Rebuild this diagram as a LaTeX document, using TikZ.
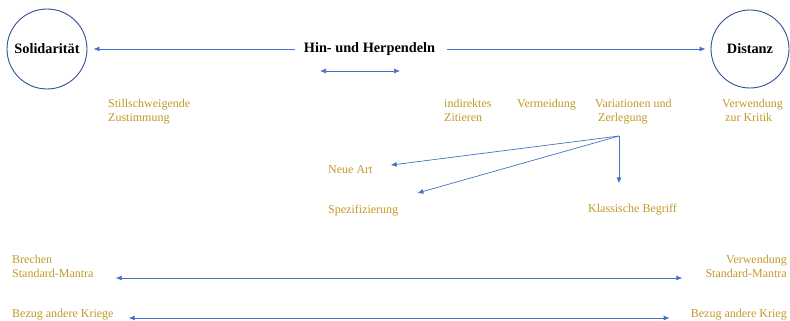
\documentclass[tikz,border=0pt]{standalone}
\usepackage{fontspec}
\setmainfont{Liberation Serif}
\usetikzlibrary{arrows.meta}
\definecolor{linkblue}{RGB}{68,114,196}
\definecolor{ringblue}{RGB}{47,82,143}
\definecolor{notegold}{RGB}{196,152,40}
\begin{document}
\begin{tikzpicture}[x=1pt, y=-1pt,
		every node/.style = {inner sep=0pt, align=left},
		ring/.style = {circle, draw=ringblue, line width=0.9pt,
			font=\fontsize{14.3}{16}\selectfont\bfseries},
		heading/.style = {font=\fontsize{14.3}{16}\selectfont\bfseries},
		note/.style = {text=notegold, font=\fontsize{12}{14}\selectfont},
		link/.style = {draw=linkblue, line width=0.7pt, -{Latex[length=6pt,width=5pt]}},
		twoway/.style = {link, {Latex[length=6pt,width=5pt]}-{Latex[length=6pt,width=5pt]}}]
		\useasboundingbox (0,0) rectangle (790,321);
		\node[ring, minimum size=80pt] (sol) at (47,49) {Solidarität};
		\node[ring, minimum size=78pt] (dist) at (750,49) {Distanz};
		\node[heading] (hin) at (369.5,49) {Hin- und Herpendeln};
		\coordinate (swingL) at (320,71);
		\coordinate (swingR) at (400,71);
		\node[note, anchor=north west] (still) at (108,99) {Stillschweigende\\Zustimmung};
		\node[note, anchor=north west] (indir) at (444,99) {indirektes\\Zitieren};
		\node[note, anchor=north west] (verm) at (517,99) {Vermeidung};
		\node[note, anchor=north west] (vari) at (595,99) {Variationen und\\\hspace{3pt}Zerlegung};
		\node[note, anchor=north west] (kritik) at (722,99) {Verwendung\\\hspace{3pt}zur Kritik};
		\coordinate (fork) at (619,136);
		\node[note, anchor=base west] (neue) at (328,173) {Neue Art};
		\node[note, anchor=base west] (spez) at (328,213) {Spezifizierung};
		\node[note, anchor=base west] (klass) at (588,212) {Klassische Begriff};
		\node[note, anchor=south west] (brechen) at (12,278) {Brechen\\Standard-Mantra};
		\node[note, anchor=south east, align=right] (verwsm) at (787,278) {Verwendung\\Standard-Mantra};
		\node[note, anchor=base west] (bezugL) at (12,317) {Bezug andere Kriege};
		\node[note, anchor=base east] (bezugR) at (787,317) {Bezug andere Krieg};
		\draw[link, shorten >=6pt] ([xshift=-9pt]hin.west) -- (sol);
		\draw[link, shorten >=5pt] ([xshift=12pt]hin.east) -- (dist);
		\draw[twoway] (swingL) -- (swingR);
		\draw[link] (fork) -- ([shift={(18pt,4pt)}]neue.east);
		\draw[link] (fork) -- ([shift={(19pt,17pt)}]spez.east);
		\draw[link, shorten >=20pt] (fork) -- (fork |- klass.north);
		\draw[twoway] ([xshift=22pt]brechen.south east) -- ([xshift=-23pt]verwsm.south west);
		\draw[twoway] ([shift={(15pt,-1pt)}]bezugL.base east) -- ([shift={(-21pt,-1pt)}]bezugR.base west);
	\end{tikzpicture}
\end{document}
